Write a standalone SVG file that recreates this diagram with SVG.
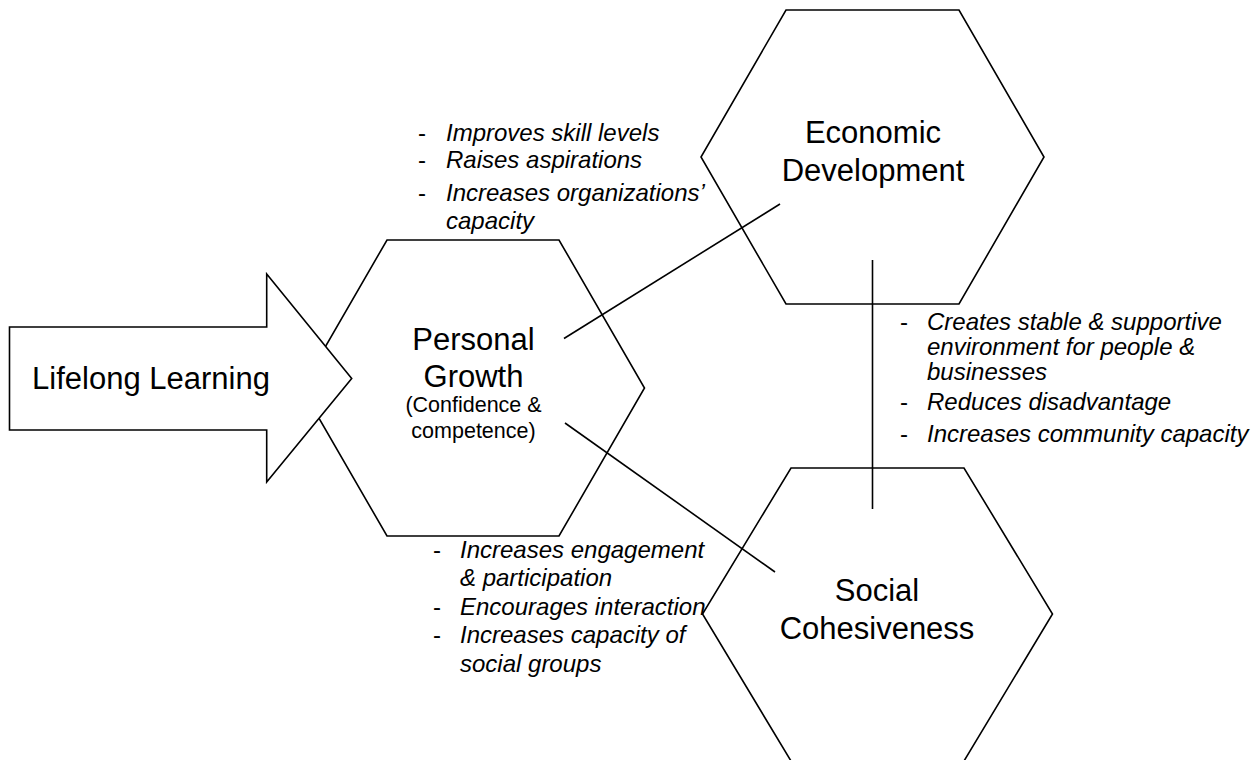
<svg xmlns="http://www.w3.org/2000/svg" width="1257" height="760" viewBox="0 0 1257 760">
  <style>
    .shape { fill: none; stroke: #000; stroke-width: 1.6; stroke-linejoin: miter; }
    .arrow { fill: #fff; stroke: #000; stroke-width: 1.6; }
    .link { stroke: #000; stroke-width: 1.6; fill: none; }
    .title { font-family: "Liberation Sans", Arial, sans-serif; font-size: 31px; fill: #000; text-anchor: middle; }
    .sub { font-family: "Liberation Sans", Arial, sans-serif; font-size: 21.5px; fill: #000; text-anchor: middle; }
    .note { font-family: "Liberation Sans", Arial, sans-serif; font-size: 24px; font-style: italic; fill: #000; }
    .dash { font-family: "Liberation Sans", Arial, sans-serif; font-size: 24px; fill: #000; }
  </style>
  <rect width="1257" height="760" fill="#fff"/>

  <!-- Personal Growth hexagon -->
  <g id="personal-growth">
    <polygon class="shape" points="387,240 559,240 644.5,388 559,536 387,536 301.5,388"/>
    <text class="title" x="473.5" y="350">Personal</text>
    <text class="title" x="473.5" y="387">Growth</text>
    <text class="sub" x="473.5" y="412">(Confidence &amp;</text>
    <text class="sub" x="473.5" y="438">competence)</text>
  </g>

  <!-- Lifelong Learning block arrow -->
  <g id="lifelong-learning">
    <polygon class="arrow" points="9.5,327 266.7,327 266.7,274 351.7,378.5 266.7,482 266.7,430 9.5,430"/>
    <text class="title" x="151" y="389">Lifelong Learning</text>
  </g>

  <!-- Economic Development hexagon -->
  <g id="economic-development">
    <polygon class="shape" points="786,10 959,10 1044,157 959,304 786,304 701,157"/>
    <text class="title" x="873" y="143">Economic</text>
    <text class="title" x="873" y="181">Development</text>
  </g>

  <!-- Social Cohesiveness hexagon -->
  <g id="social-cohesiveness">
    <polygon class="shape" points="791,468 964,468 1052.5,614 964,761 791,761 702.5,614"/>
    <text class="title" x="877" y="601">Social</text>
    <text class="title" x="877" y="639">Cohesiveness</text>
  </g>

  <!-- Connectors between the three outcomes -->
  <g id="connectors">
    <line class="link" x1="564" y1="338.5" x2="780" y2="204"/>
    <line class="link" x1="565" y1="423" x2="775" y2="572"/>
    <line class="link" x1="872.5" y1="260" x2="872.5" y2="509"/>
  </g>

  <!-- Benefits of personal growth for the economy -->
  <g id="notes-economic">
    <text class="dash" x="418" y="141">-</text>
    <text class="note" x="446" y="141">Improves skill levels</text>
    <text class="dash" x="418" y="168">-</text>
    <text class="note" x="446" y="168">Raises aspirations</text>
    <text class="dash" x="418" y="201">-</text>
    <text class="note" x="446" y="201">Increases organizations’</text>
    <text class="note" x="446" y="229">capacity</text>
  </g>

  <!-- Links between economy and community -->
  <g id="notes-community">
    <text class="dash" x="900" y="330">-</text>
    <text class="note" x="927" y="330">Creates stable &amp; supportive</text>
    <text class="note" x="927" y="355">environment for people &amp;</text>
    <text class="note" x="927" y="380">businesses</text>
    <text class="dash" x="900" y="410">-</text>
    <text class="note" x="927" y="410">Reduces disadvantage</text>
    <text class="dash" x="900" y="442">-</text>
    <text class="note" x="927" y="442">Increases community capacity</text>
  </g>

  <!-- Benefits of personal growth for social life -->
  <g id="notes-social">
    <text class="dash" x="433" y="558">-</text>
    <text class="note" x="460" y="558">Increases engagement</text>
    <text class="note" x="460" y="586">&amp; participation</text>
    <text class="dash" x="433" y="615">-</text>
    <text class="note" x="460" y="615">Encourages interaction</text>
    <text class="dash" x="433" y="643">-</text>
    <text class="note" x="460" y="643">Increases capacity of</text>
    <text class="note" x="460" y="672">social groups</text>
  </g>
</svg>
